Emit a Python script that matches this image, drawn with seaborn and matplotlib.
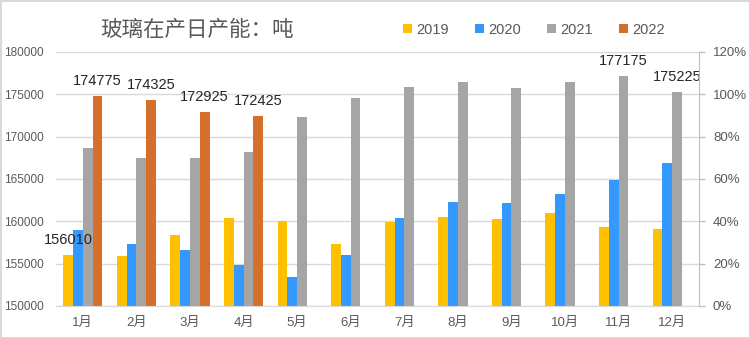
import numpy as np
import pandas as pd
import matplotlib
matplotlib.use("Agg")
import matplotlib.pyplot as plt
import seaborn as sns
from matplotlib.patches import Patch
from matplotlib.ticker import FuncFormatter, MultipleLocator

months = ["1月", "2月", "3月", "4月", "5月", "6月", "7月", "8月", "9月", "10月", "11月", "12月"]
years = ["2019", "2020", "2021", "2022"]
v2019 = [156010, 155950, 158380, 160390, 160000, 157300, 159920, 160550, 160310, 160980, 159360, 159090]
v2020 = [158920, 157300, 156640, 154900, 153400, 156080, 160430, 162320, 162200, 163270, 164890, 166940]
v2021 = [168700, 167450, 167450, 168130, 172360, 174600, 175870, 176420, 175710, 176420, 177175, 175225]
v2022 = [174775, 174325, 172925, 172425, np.nan, np.nan, np.nan, np.nan, np.nan, np.nan, np.nan, np.nan]
labelled = {("2019", "1月"), ("2022", "1月"), ("2022", "2月"), ("2022", "3月"), ("2022", "4月"),
            ("2021", "11月"), ("2021", "12月")}
colors = ["#FFC000", "#3399FF", "#A5A5A5", "#D46F2C"]

series = {"2019": v2019, "2020": v2020, "2021": v2021, "2022": v2022}
rows = []
for y in years:
    for m, v in zip(months, series[y]):
        rows.append({"month": m, "year": y, "value": v})
df = pd.DataFrame(rows)

sns.set_style("white")
plt.rcParams["font.family"] = ["Liberation Sans", "Noto Sans CJK SC", "DejaVu Sans"]

fig = plt.figure(figsize=(7.5, 3.38), dpi=100)
fig.patch.set_edgecolor("#d9d9d9")
fig.patch.set_linewidth(2)
ax = fig.add_axes([56/750, 1-306/338, (699-56)/750, (306-52)/338])

sns.barplot(data=df, x="month", y="value", hue="year", order=months, hue_order=years,
            palette=colors, saturation=1, width=0.73, gap=0, errorbar=None, linewidth=0,
            legend=False, ax=ax)

ax.set_ylim(150000, 180000)
ax.yaxis.set_major_locator(MultipleLocator(5000))
ax.set_xlim(-0.5, 11.5)
ax.set_xlabel("")
ax.set_ylabel("")
ax.grid(axis="y", color="#d9d9d9", linewidth=1)
ax.set_axisbelow(True)
for s in ["left", "top", "right"]:
    ax.spines[s].set_visible(False)
ax.spines["bottom"].set_color("#d9d9d9")
ax.tick_params(axis="y", length=0, pad=9, labelsize=8.5, labelcolor="#595959")
ax.tick_params(axis="x", length=0, pad=8, labelsize=9.5, labelcolor="#595959")

# data labels
for cont, y in zip(ax.containers, years):
    present = [m for m, v in zip(months, series[y]) if not np.isnan(v)]
    labs = []
    for m in present:
        if (y, m) in labelled:
            labs.append(f"{int(series[y][months.index(m)])}")
        else:
            labs.append("")
    ax.bar_label(cont, labels=labs, padding=6, fontsize=10.5, color="#262626")

ax2 = ax.twinx()
ax2.set_ylim(0, 1.2)
ax2.yaxis.set_major_locator(MultipleLocator(0.2))
ax2.yaxis.set_major_formatter(FuncFormatter(lambda v, p: f"{v*100:.0f}%"))
for s in ["left", "top", "bottom"]:
    ax2.spines[s].set_visible(False)
ax2.spines["right"].set_color("#bfbfbf")
ax2.tick_params(axis="y", right=True, length=4, width=1, color="#bfbfbf", pad=6,
                labelsize=9.5, labelcolor="#595959")

fig.text(100/750, 1-30/338, "玻璃在产日产能：吨", ha="left", va="center", fontsize=15.5,
         color="#595959", family=["Noto Sans CJK SC", "DejaVu Sans"])

handles = [Patch(facecolor=c, edgecolor="none") for c in colors]
fig.legend(handles, years, ncol=4, loc="center", bbox_to_anchor=(534/750, 1-30/338),
           frameon=False, fontsize=10.5, handlelength=0.6, handleheight=0.6,
           handletextpad=0.3, columnspacing=1.8, labelcolor="#595959")

fig.savefig("out.png", dpi=100)
